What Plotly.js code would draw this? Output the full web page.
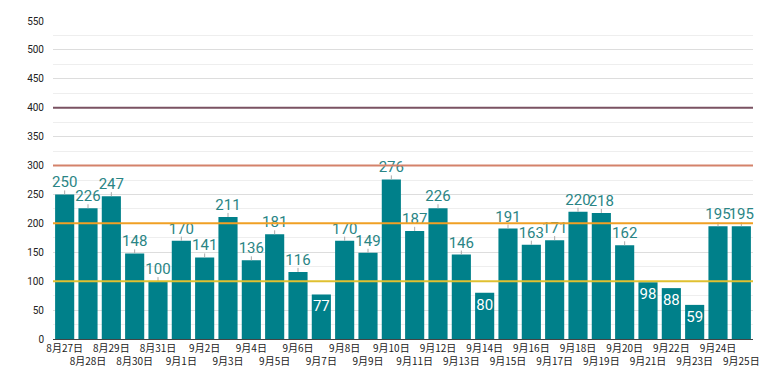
<!DOCTYPE html>
<html>
<head>
<meta charset="utf-8">
<script src="https://cdn.plot.ly/plotly-3.0.1.min.js"></script>
<style>html,body{margin:0;padding:0;background:#fff;}#chart{width:780px;height:390px;}</style>
</head>
<body>
<div id="chart"></div>
<script>
const dates = ["8月27日","8月28日","8月29日","8月30日","8月31日","9月1日","9月2日","9月3日","9月4日","9月5日","9月6日","9月7日","9月8日","9月9日","9月10日","9月11日","9月12日","9月13日","9月14日","9月15日","9月16日","9月17日","9月18日","9月19日","9月20日","9月21日","9月22日","9月23日","9月24日","9月25日"];
const counts = [250,226,247,148,100,170,141,211,136,181,116,77,170,149,276,187,226,146,80,191,163,171,220,218,162,98,88,59,195,195];
const thresholds = [100,200,300,400];
const thresholdColors = ["#e0c030","#f0a024","#d4826a","#7a5262"];
const yTicks = [0,50,100,150,200,250,300,350,400,450,500,550];

const tickText = dates.map((d,i) => i % 2 === 0 ? d : "<br>" + d);
const positions = counts.map(v => v < 100 ? "inside" : "outside");
const leader = counts.map(v => v < 100 ? 0 : 7);

const trace = {
  type: "bar",
  x: dates,
  y: counts,
  marker: {color: "#00808a"},
  text: counts.map(String),
  textposition: positions,
  insidetextanchor: "end",
  textangle: 0,
  constraintext: "none",
  cliponaxis: false,
  insidetextfont: {color: "#ffffff", size: 15, family: "Roboto"},
  outsidetextfont: {color: "#2a8585", size: 15, family: "Roboto"},
  error_y: {type: "data", symmetric: false, array: leader, arrayminus: counts.map(() => 0),
            color: "#aaaaaa", thickness: 1, width: 0},
  hoverinfo: "skip"
};

const shapes = thresholds.map((t,i) => ({
  type: "line", xref: "paper", x0: 0, x1: 1, yref: "y", y0: t, y1: t,
  line: {color: thresholdColors[i], width: 2}, layer: "above"
}));

const layout = {
  width: 780, height: 390,
  margin: {l: 53, r: 27, t: 21, b: 51},
  paper_bgcolor: "#ffffff", plot_bgcolor: "#ffffff",
  bargap: 0.18,
  showlegend: false,
  font: {family: "Roboto, 'Noto Sans CJK JP', sans-serif"},
  xaxis: {
    type: "category",
    tickmode: "array", tickvals: dates, ticktext: tickText,
    tickfont: {size: 10, color: "#222222", family: "'Noto Sans CJK JP', sans-serif"},
    showline: true, linecolor: "#444444", linewidth: 1,
    ticks: "", showgrid: false, fixedrange: true,
    tickangle: 0
  },
  yaxis: {
    range: [0, 550],
    tickmode: "array", tickvals: yTicks,
    tickfont: {size: 10, color: "#222222", family: "Roboto"},
    showgrid: true, gridcolor: "#dddddd", gridwidth: 1,
    minor: {dtick: 25, showgrid: true, gridcolor: "#eeeeee", gridwidth: 1},
    zeroline: false, ticks: "", ticklabelstandoff: 8, fixedrange: true
  },
  shapes: shapes
};

Plotly.newPlot("chart", [trace], layout, {displayModeBar: false, staticPlot: true});
</script>
</body>
</html>
